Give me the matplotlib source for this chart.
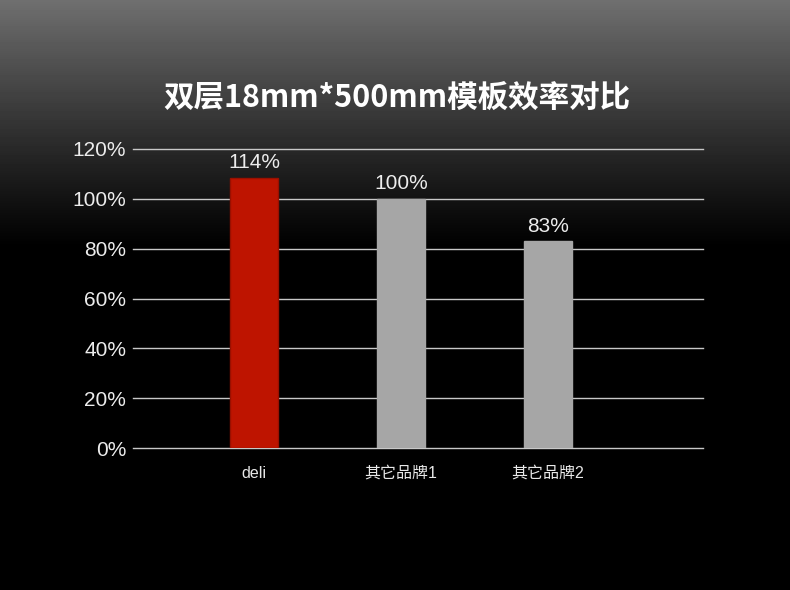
import numpy as np
import matplotlib.pyplot as plt

plt.rcParams['font.family'] = ['Liberation Sans', 'Noto Sans CJK SC', 'DejaVu Sans']

# data
brands = ['deli', '其它品牌1', '其它品牌2']
heights = [108.5, 100, 83]          # drawn bar heights (%)
labels = ['114%', '100%', '83%']    # printed value labels
bar_colors = ['#be1400', '#a6a6a6', '#a6a6a6']
edge_colors = ['#9a1000', '#a6a6a6', '#a6a6a6']
yticks = [0, 20, 40, 60, 80, 100, 120]

fig = plt.figure(figsize=(7.9, 5.9), dpi=100)

# background gradient, grey at top fading to black
bg = fig.add_axes([0, 0, 1, 1])
rows = np.linspace(0, 1, 590)
shade = np.clip(0.47 * (1 - rows / 0.42), 0, 1) ** 1.1
img = np.repeat(shade[:, None], 790, axis=1)
bg.imshow(img, cmap='gray', vmin=0, vmax=1, aspect='auto',
          extent=[0, 1, 0, 1], origin='upper')
bg.axis('off')

ax = fig.add_axes([133 / 790, 1 - 448 / 590, 570 / 790, 299 / 590])
ax.set_facecolor('none')
x = np.arange(len(brands))
ax.bar(x, heights, width=0.327, color=bar_colors, edgecolor=edge_colors,
       linewidth=1, zorder=3)
for xi, h, lab in zip(x, heights, labels):
    ax.text(xi, h + 2.2, lab, ha='center', va='bottom', color='#ececec',
            fontsize=15)

ax.set_xlim(-0.823, 3.054)
ax.set_ylim(0, 120)
ax.set_yticks(yticks)
ax.set_yticklabels([f'{t}%' for t in yticks])
ax.set_xticks(x)
ax.set_xticklabels(brands)
ax.yaxis.grid(True, color='#c8c8c8', linewidth=1.0, zorder=0)
ax.set_axisbelow(True)
for gl in ax.get_ygridlines():
    gl.set_clip_on(False)
for s in ax.spines.values():
    s.set_visible(False)
ax.tick_params(axis='y', length=0, pad=5, labelsize=15, labelcolor='#ececec')
ax.tick_params(axis='x', length=0, pad=13, labelsize=11.5, labelcolor='#e8e8e8')

fig.text(397 / 790, 1 - 98 / 590, '双层18mm*500mm模板效率对比', ha='center', va='center',
         color='white', fontsize=22, fontweight='bold',
         family=['Noto Sans CJK SC', 'DejaVu Sans'])

fig.savefig('out.png', dpi=100)
